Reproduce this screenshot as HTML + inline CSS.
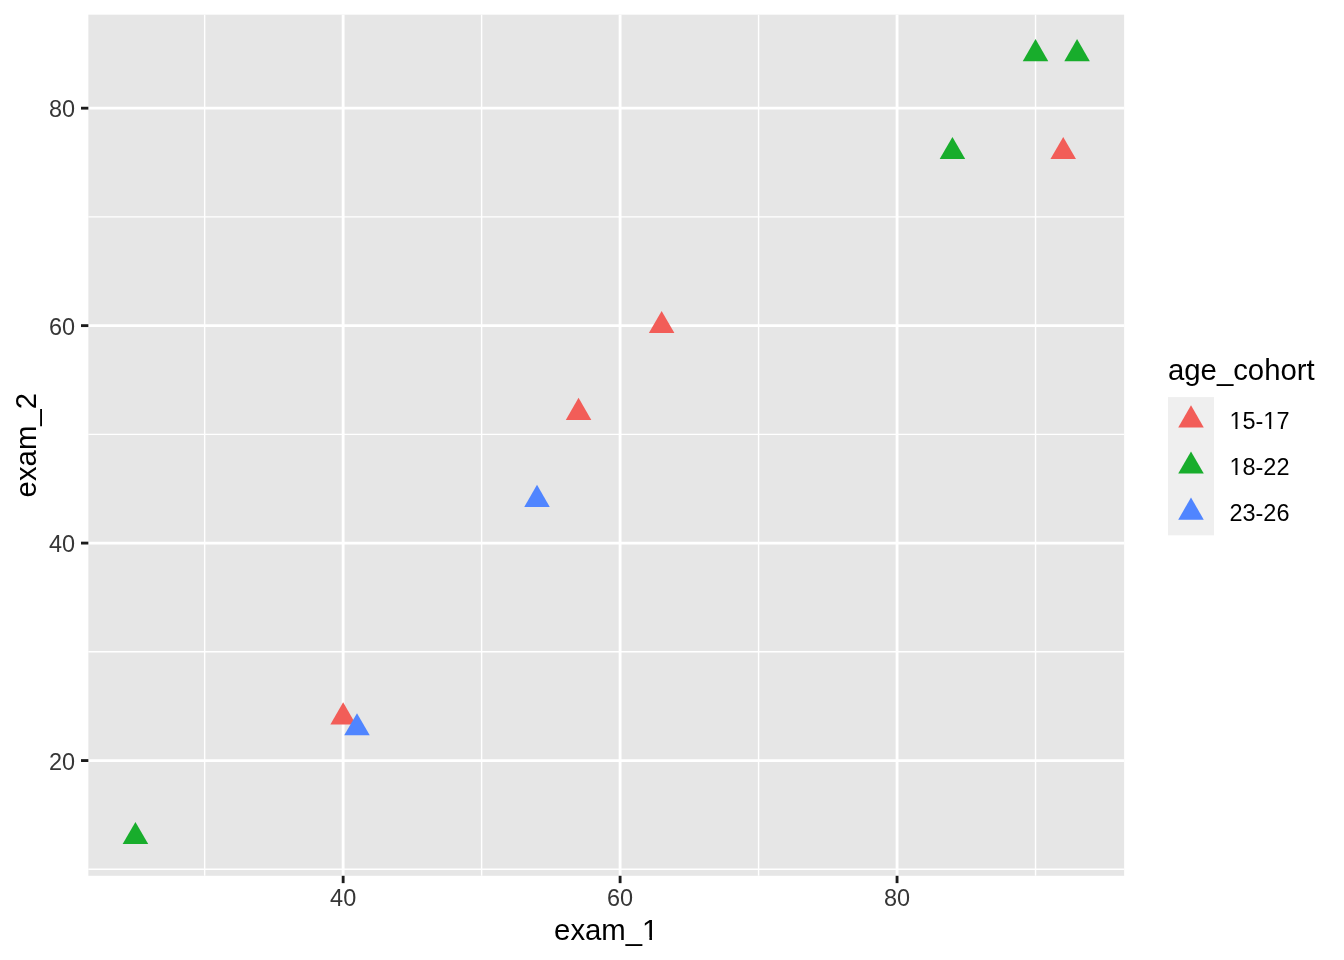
<!DOCTYPE html>
<html lang="en"><head><meta charset="utf-8"><title>exam scatter</title>
<style>
html,body{margin:0;padding:0;background:#fff;}
body{width:1344px;height:960px;overflow:hidden;}
svg{display:block;will-change:transform;font-family:"Liberation Sans",sans-serif;}
</style></head><body>
<svg width="1344" height="960" viewBox="0 0 1344 960">
<rect width="1344" height="960" fill="#fff"/>
<rect x="88.35" y="14.67" width="1035.80" height="861.13" fill="#E6E6E6"/>
<g stroke="#fff" stroke-width="1.42" stroke-linecap="butt">
<line x1="88.35" x2="1124.15" y1="869.28" y2="869.28"/>
<line x1="88.35" x2="1124.15" y1="651.82" y2="651.82"/>
<line x1="88.35" x2="1124.15" y1="434.36" y2="434.36"/>
<line x1="88.35" x2="1124.15" y1="216.91" y2="216.91"/>
<line y1="14.67" y2="875.8" x1="204.67" x2="204.67"/>
<line y1="14.67" y2="875.8" x1="481.62" x2="481.62"/>
<line y1="14.67" y2="875.8" x1="758.57" x2="758.57"/>
<line y1="14.67" y2="875.8" x1="1035.53" x2="1035.53"/>
</g>
<g stroke="#fff" stroke-width="2.85" stroke-linecap="butt">
<line x1="88.35" x2="1124.15" y1="760.55" y2="760.55"/>
<line x1="88.35" x2="1124.15" y1="543.09" y2="543.09"/>
<line x1="88.35" x2="1124.15" y1="325.63" y2="325.63"/>
<line x1="88.35" x2="1124.15" y1="108.18" y2="108.18"/>
<line y1="14.67" y2="875.8" x1="343.15" x2="343.15"/>
<line y1="14.67" y2="875.8" x1="620.10" x2="620.10"/>
<line y1="14.67" y2="875.8" x1="897.05" x2="897.05"/>
</g>
<polygon points="135.43,821.91 148.20,844.03 122.66,844.03" fill="#18AD2C"/>
<polygon points="343.15,702.31 355.91,724.43 330.38,724.43" fill="#F25D58"/>
<polygon points="356.99,713.19 369.76,735.30 344.22,735.30" fill="#5085FF"/>
<polygon points="537.01,484.86 549.78,506.97 524.24,506.97" fill="#5085FF"/>
<polygon points="578.55,397.87 591.32,419.99 565.79,419.99" fill="#F25D58"/>
<polygon points="661.64,310.89 674.41,333.01 648.87,333.01" fill="#F25D58"/>
<polygon points="952.44,136.92 965.21,159.04 939.67,159.04" fill="#18AD2C"/>
<polygon points="1063.22,136.92 1075.99,159.04 1050.45,159.04" fill="#F25D58"/>
<polygon points="1035.53,39.07 1048.29,61.18 1022.76,61.18" fill="#18AD2C"/>
<polygon points="1077.07,39.07 1089.84,61.18 1064.30,61.18" fill="#18AD2C"/>
<g stroke="#1C1C1C" stroke-width="2.85" stroke-linecap="butt">
<line x1="81.02" x2="88.35" y1="760.55" y2="760.55"/>
<line x1="81.02" x2="88.35" y1="543.09" y2="543.09"/>
<line x1="81.02" x2="88.35" y1="325.63" y2="325.63"/>
<line x1="81.02" x2="88.35" y1="108.18" y2="108.18"/>
<line y1="875.8" y2="883.13" x1="343.15" x2="343.15"/>
<line y1="875.8" y2="883.13" x1="620.10" x2="620.10"/>
<line y1="875.8" y2="883.13" x1="897.05" x2="897.05"/>
</g>
<g font-size="23.47" fill="#363636">
<text x="75.15" y="770" text-anchor="end">20</text>
<text x="75.15" y="552" text-anchor="end">40</text>
<text x="75.15" y="335" text-anchor="end">60</text>
<text x="75.15" y="117" text-anchor="end">80</text>
<text x="343.15" y="906" text-anchor="middle">40</text>
<text x="620.10" y="906" text-anchor="middle">60</text>
<text x="897.05" y="906" text-anchor="middle">80</text>
</g>
<text x="606.25" y="940" font-size="29.33" text-anchor="middle" fill="#000">exam_1</text>
<text transform="translate(36,445.23) rotate(-90)" font-size="29.33" text-anchor="middle" fill="#000">exam_2</text>
<text x="1167.96" y="380" font-size="29.33" fill="#000">age_cohort</text>
<rect x="1167.96" y="397.07" width="46.08" height="138.24" fill="#EFEFEF"/>
<polygon points="1191.00,405.37 1203.77,427.48 1178.23,427.48" fill="#F25D58"/>
<text x="1229.41" y="429" font-size="23.47" fill="#000">15-17</text>
<polygon points="1191.00,451.45 1203.77,473.56 1178.23,473.56" fill="#18AD2C"/>
<text x="1229.41" y="475" font-size="23.47" fill="#000">18-22</text>
<polygon points="1191.00,497.53 1203.77,519.64 1178.23,519.64" fill="#5085FF"/>
<text x="1229.41" y="521" font-size="23.47" fill="#000">23-26</text>
<g fill="#fff">
<rect x="643.0" y="937.0" width="6.39" height="3.60"/>
<rect x="651.96" y="937.0" width="6.04" height="3.60"/>
<rect x="1230.0" y="427.0" width="5.42" height="2.60"/>
<rect x="1237.46" y="427.0" width="5.54" height="2.60"/>
<rect x="1264.0" y="427.0" width="5.18" height="2.60"/>
<rect x="1271.22" y="427.0" width="4.78" height="2.60"/>
<rect x="1230.0" y="473.0" width="5.42" height="2.60"/>
<rect x="1237.46" y="473.0" width="5.54" height="2.60"/>
</g>
</svg>
</body></html>
